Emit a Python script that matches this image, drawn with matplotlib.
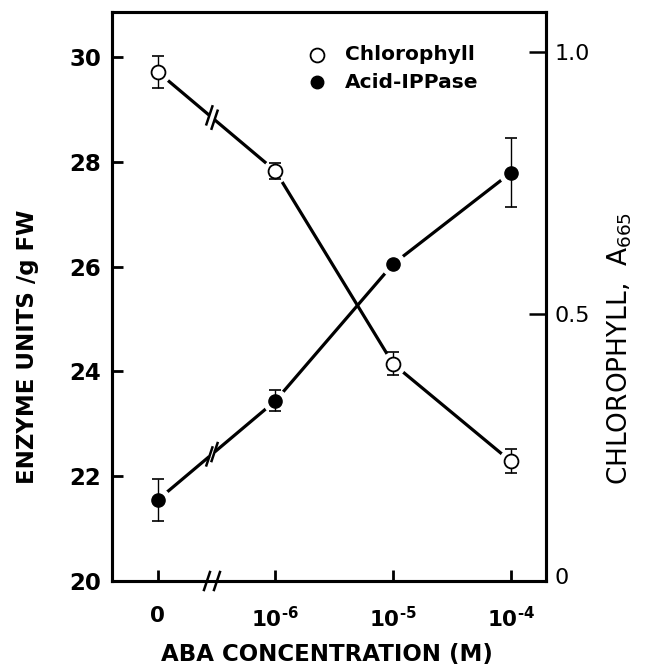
import numpy as np
import matplotlib
matplotlib.use("Agg")
import matplotlib.pyplot as plt

# ---- data ----
conc_labels = ["0", "$10^{\u20106}$", "$10^{\u20105}$", "$10^{\u20104}$"]
chl = [0.962, 0.773, 0.405, 0.219]
chl_err = [0.03, 0.016, 0.022, 0.023]
acid = [21.55, 23.44, 26.05, 27.79]
acid_err_lo = [0.40, 0.20, 0.0, 0.66]
acid_err_hi = [0.40, 0.20, 0.0, 0.66]
left_ticks = [20, 22, 24, 26, 28, 30]
right_ticks = [0, 0.5, 1.0]
right_ticklabels = ["0", "0.5", "1.0"]
series_names = ["Chlorophyll", "Acid-IPPase"]

plt.rcParams['font.family'] = ['DejaVu Sans']
plt.rcParams['mathtext.fontset'] = 'custom'
plt.rcParams['mathtext.rm'] = 'DejaVu Sans:bold'
plt.rcParams['mathtext.it'] = 'DejaVu Sans:bold'
plt.rcParams['mathtext.bf'] = 'DejaVu Sans:bold'

fig = plt.figure(figsize=(6.53, 6.71), dpi=100)
ax = fig.add_axes([112/653, 1-581/671, (546-112)/653, (581-12)/671])
ax2 = ax.twinx()

x = np.arange(len(chl))
xlim = (-0.39, 3.30)
ax.set_xlim(*xlim)
ax.set_ylim(20, 30.86)
ax2.set_ylim(-0.0095, 1.0765)

LW = 2.3
brk = 0.46      # break position between first two categories
gap = 0.022

def draw_series(a, xs, ys):
    ys = np.asarray(ys, float)
    y_l = np.interp(brk - gap, xs, ys)
    y_r = np.interp(brk + gap, xs, ys)
    a.plot([xs[0], brk - gap], [ys[0], y_l], color='black', lw=LW, zorder=2, solid_capstyle='butt')
    a.plot(np.r_[brk + gap, xs[1:]], np.r_[y_r, ys[1:]], color='black', lw=LW, zorder=2,
           solid_capstyle='butt')
    for xb, yb in ((brk - gap, y_l), (brk + gap, y_r)):
        px, py = a.transData.transform((xb, yb))
        a.plot([px - 3, px + 3], [py - 9, py + 9], color='black', lw=1.8,
               transform=None, zorder=2)

draw_series(ax, x, acid)
draw_series(ax2, x, chl)

# white halos around markers
ax.plot(x, acid, 'o', ms=17, color='white', zorder=3)
ax2.plot(x, chl, 'o', ms=17, color='white', zorder=3)

# error bars
ax.errorbar(x, acid, yerr=[acid_err_lo, acid_err_hi], fmt='none', ecolor='black',
            elinewidth=1.0, capsize=4, capthick=1.2, zorder=4)
ax2.errorbar(x, chl, yerr=chl_err, fmt='none', ecolor='black',
             elinewidth=1.0, capsize=4, capthick=1.2, zorder=4)

# markers
ax.plot(x, acid, 'o', ms=9.5, mfc='black', mec='black', zorder=5)
ax2.plot(x, chl, 'o', ms=10, mfc='white', mec='black', mew=1.3, zorder=5)

# axes styling
for a in (ax, ax2):
    for s in a.spines.values():
        s.set_linewidth(2.2)
ax.set_xticks(x)
ax.set_xticklabels(conc_labels, fontsize=15.5, fontweight='bold')
ax.set_yticks(left_ticks)
ax.set_yticklabels([str(t) for t in left_ticks], fontsize=16.5, fontweight='bold')
ax.tick_params(axis='both', direction='in', length=8, width=2, pad=8)
ax.tick_params(axis='x', pad=18)
ax2.set_yticks(right_ticks)
ax2.set_yticklabels(right_ticklabels, fontsize=16)
ax2.tick_params(axis='y', direction='in', length=12, width=1.8, pad=6)
ax2.yaxis.get_major_ticks()[0].tick2line.set_visible(False)

ax.set_ylabel("ENZYME UNITS /g FW", fontsize=16.5, fontweight='bold')
ax.yaxis.set_label_coords((28-112)/434, (581-347)/569)
ax.yaxis.label.set_va('center')
ax2.set_ylabel(r"CHLOROPHYLL,  A$_{\mathregular{665}}$", fontsize=19)
ax2.yaxis.set_label_coords((620-112)/434, (581-348)/569)
ax2.yaxis.label.set_va('center')
ax.set_xlabel("ABA CONCENTRATION (M)", fontsize=16.5, fontweight='bold')
ax.xaxis.set_label_coords((327-112)/434, (581-654)/569)
ax.xaxis.label.set_va('center')

# x-axis break
xa = (brk - xlim[0]) / (xlim[1] - xlim[0])
p0 = ax.transAxes.transform((xa, 0))
ax.plot([p0[0] - 5, p0[0] + 5], [p0[1], p0[1]], color='white', lw=4, transform=None,
        clip_on=False, zorder=10)
for dx in (-5, 5):
    ax.plot([p0[0] + dx - 3, p0[0] + dx + 3], [p0[1] - 9, p0[1] + 9], color='black', lw=1.8,
            transform=None, clip_on=False, zorder=11)

# legend (manual)
lx_m, lx_t = (317-112)/434, (345-112)/434
ly = [(581-55)/569, (581-82)/569]
ax.plot([lx_m], [ly[0]], 'o', ms=10, mfc='white', mec='black', mew=1.3,
        transform=ax.transAxes, clip_on=False, zorder=6)
ax.plot([lx_m], [ly[1]], 'o', ms=9, mfc='black', mec='black',
        transform=ax.transAxes, clip_on=False, zorder=6)
for name, yy in zip(series_names, ly):
    ax.text(lx_t, yy, name, transform=ax.transAxes, fontsize=14.5, fontweight='bold',
            va='center', ha='left')

fig.savefig("out.png", dpi=100)
